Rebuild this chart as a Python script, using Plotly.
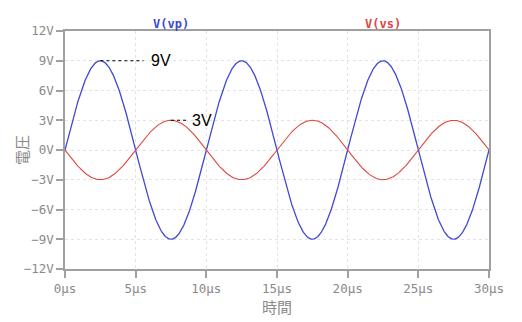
import numpy as np
import plotly.graph_objects as go

# Values
period_us = 10.0          # both traces: period 10 µs
vp_amplitude = 9.0        # V(vp) peak, volts
vs_amplitude = -3.0       # V(vs) peak (inverted), volts
t_end_us = 30.0

x_ticks = [0, 5, 10, 15, 20, 25, 30]
x_ticktext = ["0µs", "5µs", "10µs", "15µs", "20µs", "25µs", "30µs"]
y_ticks = [-12, -9, -6, -3, 0, 3, 6, 9, 12]
y_ticktext = ["−12V", "−9V", "−6V", "−3V", "0V", "3V", "6V", "9V", "12V"]

t = np.linspace(0, t_end_us, 1201)
vp = vp_amplitude * np.sin(2 * np.pi * t / period_us)
vs = vs_amplitude * np.sin(2 * np.pi * t / period_us)

BLUE = "#4048d6"
RED = "#e0473f"
GRAY = "#8a8a8a"
MONO = "DejaVu Sans Mono, monospace"
CJK = "Noto Sans CJK JP, sans-serif"

fig = go.Figure()
fig.add_trace(go.Scatter(x=t, y=vp, mode="lines", line=dict(color=BLUE, width=1.3), name="V(vp)"))
fig.add_trace(go.Scatter(x=t, y=vs, mode="lines", line=dict(color=RED, width=1.1), name="V(vs)"))

axis_common = dict(
    showline=True, linecolor="#a0a0a0", linewidth=1.5, mirror=True,
    ticks="outside", ticklen=7, tickcolor="#a0a0a0", tickwidth=1.5,
    showgrid=True, gridcolor="#e3e3e3", griddash="3px,3px", gridwidth=1,
    zeroline=False, automargin=False,
    tickfont=dict(family=MONO, size=12.5, color=GRAY),
)

fig.update_layout(
    width=522, height=322,
    margin=dict(l=65, r=33, t=31, b=53, autoexpand=False),
    paper_bgcolor="white", plot_bgcolor="white",
    showlegend=False,
    xaxis=dict(range=[0, t_end_us], tickvals=x_ticks, ticktext=x_ticktext,
               title=dict(text="時間", font=dict(family=CJK, size=15, color=GRAY), standoff=4),
               **axis_common),
    yaxis=dict(range=[-12, 12], tickvals=y_ticks, ticktext=y_ticktext,
               **axis_common),
)

# Y axis title placed as rotated text
fig.add_annotation(x=-0.104, y=0.5, xref="paper", yref="paper", xanchor="center", yanchor="middle",
                   text="電圧", textangle=-90, showarrow=False,
                   font=dict(family=CJK, size=15, color=GRAY))

# Trace labels above the plot
fig.add_annotation(x=7.5, y=1, xref="x", yref="paper", yanchor="bottom", yshift=-2,
                   text="<b>V(vp)</b>", showarrow=False,
                   font=dict(family=MONO, size=12, color=BLUE))
fig.add_annotation(x=22.5, y=1, xref="x", yref="paper", yanchor="bottom", yshift=-2,
                   text="<b>V(vs)</b>", showarrow=False,
                   font=dict(family=MONO, size=12, color=RED))

# Peak callouts
fig.add_shape(type="line", x0=2.5, x1=5.55, y0=vp_amplitude, y1=vp_amplitude,
              xref="x", yref="y", line=dict(color="black", width=1, dash="dot"))
fig.add_annotation(x=5.95, y=vp_amplitude, xref="x", yref="y", xanchor="left",
                   text="9V", showarrow=False,
                   font=dict(family="Liberation Sans, Arial", size=16, color="black"))
fig.add_shape(type="line", x0=7.5, x1=8.7, y0=-vs_amplitude, y1=-vs_amplitude,
              xref="x", yref="y", line=dict(color="black", width=1, dash="dot"))
fig.add_annotation(x=8.85, y=-vs_amplitude, xref="x", yref="y", xanchor="left",
                   text="3V", showarrow=False,
                   font=dict(family="Liberation Sans, Arial", size=16, color="black"))

fig.write_html("out.html")
